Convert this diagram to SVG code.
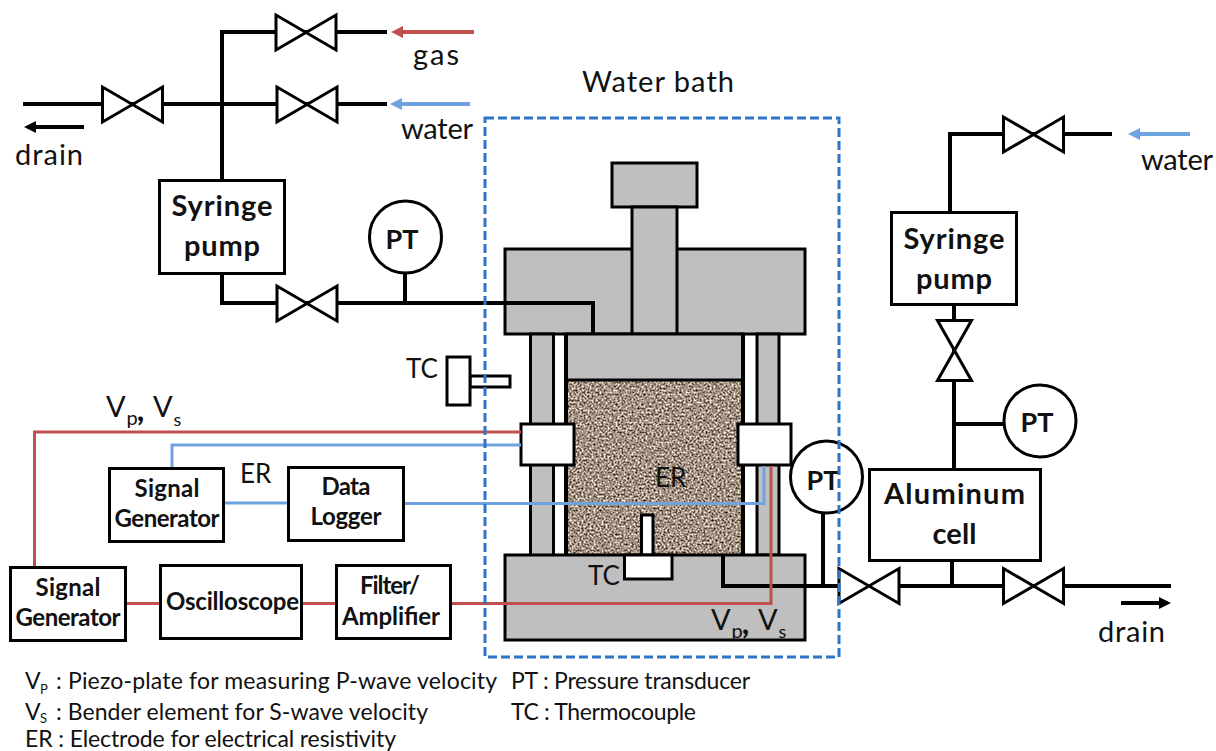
<svg xmlns="http://www.w3.org/2000/svg" width="1216" height="751" viewBox="0 0 1216 751">
<style>
text{font-family:"Lato","Open Sans","Liberation Sans",sans-serif;fill:#111}
.t{font-size:29px}
.a{font-size:26px}
.l{font-size:23px}
.s{font-size:20px}
.ss{font-size:13px}
.c{font-size:30px;font-weight:900}
.b{font-weight:700;text-anchor:middle;font-size:29px}
.p{font-weight:700;text-anchor:middle;font-size:27px}
.b2{font-weight:700;text-anchor:middle;font-size:24px}
.box{fill:#fff;stroke:#000;stroke-width:3}
.g{fill:#bfbfbf;stroke:#000;stroke-width:3}
.w{fill:#fff;stroke:#000;stroke-width:3}
.pipe{fill:none;stroke:#000;stroke-width:4}
.red{fill:none;stroke:#c0504d;stroke-width:3}
.blue{fill:none;stroke:#6fa3e0;stroke-width:3}
.valve{fill:#fff;stroke:#000;stroke-width:3}
</style>
<defs>
<filter id="sand" x="0" y="0" width="1" height="1" color-interpolation-filters="sRGB">
<feTurbulence type="fractalNoise" baseFrequency="0.5" numOctaves="2" seed="7"/>
<feColorMatrix type="matrix" values="1.6 0 0 0 -0.17  1.6 0 0 0 -0.23  1.6 0 0 0 -0.29  0 0 0 0 1"/>
</filter>
<path id="vh" class="valve" d="M-30,-17.500L-30,17.500L30,-17.500L30,17.500Z"/>
<path id="vv" class="valve" d="M-17,-30L17,-30L-17,30L17,30Z"/>
</defs>
<rect width="1216" height="751" fill="#fff"/>

<g id="press">
<rect class="g" x="505" y="249" width="300" height="85"/>
<rect class="g" x="612" y="163" width="85" height="44"/>
<rect class="g" x="632" y="207" width="45" height="127"/>
<rect class="g" x="530.500" y="334" width="23" height="222"/>
<rect class="g" x="757" y="334" width="22" height="221"/>
<rect x="566" y="380" width="177" height="175" filter="url(#sand)"/>
<rect class="g" x="566" y="334" width="177" height="46"/>
<path d="M566,334V555M743,334V555" stroke="#000" stroke-width="4" fill="none"/>
<rect class="g" x="505" y="555" width="300" height="85"/>
<rect class="w" x="641.500" y="515" width="11.500" height="40"/>
<rect class="w" x="624.500" y="555" width="47.500" height="24"/>
</g>
<g id="clamp-left"><rect class="w" x="521" y="424" width="53" height="41"/></g>
<g id="clamp-right"><rect class="w" x="738" y="424" width="53" height="41"/></g>
<g id="tc-probe">
<rect class="w" x="470" y="376" width="40" height="11"/>
<rect class="w" x="447" y="357" width="23" height="48"/>
</g>

<g id="connectors">
<path class="pipe" d="M23,104H387M222,180V32H387M222,274V303H593V334"/>
<path class="pipe" d="M405,273V303M723,555V586H840M823,512V586"/>
<path class="pipe" d="M898,586H1171M952,561V586"/>
<path class="pipe" d="M950,212V134H1112M954,305V469M954,424H1004"/>
<path class="red" d="M34.500,567V432H521"/>
<path class="red" d="M126,603.500H160M302,603.500H336M451,603.500H771V466"/>
<path class="blue" d="M172,467V445H521"/>
<path class="blue" d="M224,503H288M404,503.500H764V466"/>
<path class="red" style="stroke-width:4" d="M474,32H402"/>
<path d="M391,32L403,26V38Z" fill="#c0504d"/>
<path class="blue" style="stroke-width:4" d="M470,104H402"/>
<path d="M390,104L402,98V110Z" fill="#6fa3e0"/>
<path class="blue" style="stroke-width:4" d="M1190,134H1139"/>
<path d="M1128,134L1140,128V140Z" fill="#6fa3e0"/>
<path d="M84,127H34" stroke="#000" stroke-width="4" fill="none"/>
<path d="M24,127L36,121V133Z" fill="#000"/>
<path d="M1121,603H1160" stroke="#000" stroke-width="4" fill="none"/>
<path d="M1171,603L1159,597V609Z" fill="#000"/>
</g>

<g id="valve-drain-left"><use href="#vh" x="132.500" y="104.500"/></g>
<g id="valve-gas"><use href="#vh" x="306" y="32.500"/></g>
<g id="valve-water"><use href="#vh" x="307" y="104.500"/></g>
<g id="valve-pump"><use href="#vh" x="307" y="303.500"/></g>
<g id="valve-water-right"><use href="#vh" x="1033.500" y="134.500"/></g>
<g id="valve-vertical"><use href="#vv" x="954.500" y="350.500"/></g>
<g id="valve-cell-left"><use href="#vh" x="869" y="586"/></g>
<g id="valve-cell-right"><use href="#vh" x="1033.500" y="586"/></g>

<g id="syringe-pump-left">
<rect class="box" x="159.500" y="180.500" width="125" height="93"/>
<text class="b" x="222" y="216" textLength="101">Syringe</text>
<text class="b" x="222" y="256" textLength="76">pump</text>
</g>
<g id="pt-top"><circle class="box" cx="405.500" cy="237" r="36"/><text class="p" x="402" y="249">PT</text></g>
<g id="pt-right"><circle class="box" cx="1040" cy="421" r="36"/><text class="p" x="1037" y="432">PT</text></g>
<g id="pt-base"><circle class="box" cx="826.500" cy="477" r="36"/><text class="p" x="823" y="490">PT</text></g>
<g id="syringe-pump-right">
<rect class="box" x="891.500" y="212.500" width="125" height="92"/>
<text class="b" x="954" y="249" textLength="101">Syringe</text>
<text class="b" x="954" y="289" textLength="76">pump</text>
</g>
<g id="aluminum-cell">
<rect class="box" x="869.500" y="469.500" width="171" height="91"/>
<text class="b" x="954.500" y="504" textLength="141">Aluminum</text>
<text class="b" x="954.500" y="544" textLength="44">cell</text>
</g>
<g id="signal-generator-er">
<rect class="box" x="109.500" y="468.500" width="114" height="73"/>
<text class="b2" x="167" y="497" textLength="65">Signal</text>
<text class="b2" x="167" y="527" textLength="105">Generator</text>
</g>
<g id="data-logger">
<rect class="box" x="288.500" y="467.500" width="115" height="73"/>
<text class="b2" x="346" y="495" textLength="49">Data</text>
<text class="b2" x="346" y="525" textLength="71">Logger</text>
</g>
<g id="signal-generator-vp">
<rect class="box" x="10.500" y="567.500" width="115" height="73"/>
<text class="b2" x="68" y="596" textLength="65">Signal</text>
<text class="b2" x="68" y="626" textLength="105">Generator</text>
</g>
<g id="oscilloscope">
<rect class="box" x="160.500" y="565.500" width="141" height="73"/>
<text class="b2" x="232.500" y="610" textLength="133">Oscilloscope</text>
</g>
<g id="filter-amplifier">
<rect class="box" x="336.500" y="565.500" width="114" height="73"/>
<text class="b2" x="390" y="594" textLength="60">Filter/</text>
<text class="b2" x="391" y="625" textLength="98">Amplifier</text>
</g>

<g id="water-bath">
<rect x="485" y="118" width="354" height="539" fill="none" stroke="#2e75c8" stroke-width="3" stroke-dasharray="9 4"/>
<text class="t" x="582" y="92" textLength="152" lengthAdjust="spacing">Water bath</text>
</g>

<g id="labels">
<text class="t" x="413" y="65" textLength="46" lengthAdjust="spacing">gas</text>
<text class="t" x="401" y="139" textLength="72" lengthAdjust="spacing">water</text>
<text class="t" x="15" y="165" textLength="68" lengthAdjust="spacing">drain</text>
<text class="t" x="1141" y="170" textLength="72" lengthAdjust="spacing">water</text>
<text class="t" x="1098" y="642" textLength="67" lengthAdjust="spacing">drain</text>
<text class="a" x="406" y="378">TC</text>
<text class="a" x="588" y="585">TC</text>
<text class="a" x="655" y="487">ER</text>
<text class="a" x="240" y="483">ER</text>
<text class="t" x="106" y="417">V</text><text class="s" x="126.500" y="425">p</text><text class="c" x="137" y="421">,</text><text class="t" x="153" y="417">V</text><text class="s" x="173.500" y="426" style="font-size:18px">s</text>
<text class="t" x="711" y="630">V</text><text class="s" x="731.500" y="638">p</text><text class="c" x="742" y="634">,</text><text class="t" x="758" y="630">V</text><text class="s" x="778.500" y="638" style="font-size:18px">s</text>
</g>

<g id="legend">
<text class="l" x="25" y="689">V</text><text class="ss" x="40" y="694">P</text>
<text class="l" x="56" y="689" textLength="441" lengthAdjust="spacing">: Piezo-plate for measuring P-wave velocity</text>
<text class="l" x="25" y="720">V</text><text class="ss" x="40" y="723">S</text>
<text class="l" x="56" y="720" textLength="372" lengthAdjust="spacing">: Bender element for S-wave velocity</text>
<text class="l" x="25" y="747" textLength="371" lengthAdjust="spacing">ER : Electrode for electrical resistivity</text>
<text class="l" x="511" y="689" textLength="239" lengthAdjust="spacing">PT : Pressure transducer</text>
<text class="l" x="511" y="720" textLength="185" lengthAdjust="spacing">TC : Thermocouple</text>
</g>
</svg>
